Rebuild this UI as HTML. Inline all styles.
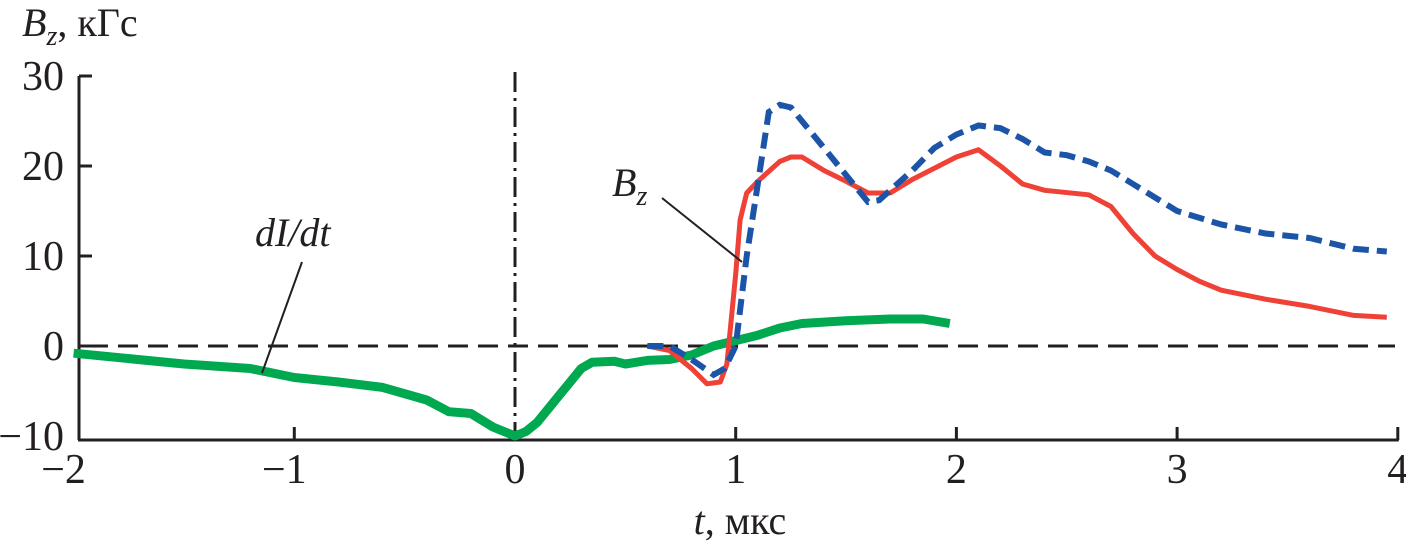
<!DOCTYPE html>
<html><head><meta charset="utf-8"><style>
html,body{margin:0;padding:0;background:#fff;width:1406px;height:549px;overflow:hidden}
text{font-family:"Liberation Serif","Times New Roman",serif;fill:#231f20}
</style></head><body>
<svg id="chart" width="1406" height="549" viewBox="0 0 1406 549" xmlns="http://www.w3.org/2000/svg" font-family="Liberation Serif, Times New Roman, serif">
<g id="axes"></g>
<g id="series"></g>
<text x="22" y="36" font-size="40" font-style="italic" font-family="Liberation Serif, serif">B<tspan font-size="28" dy="9">z</tspan><tspan font-style="normal" dy="-9">, кГс</tspan></text>
<text x="740" y="534" font-size="40" text-anchor="middle" font-family="Liberation Serif, serif"><tspan font-style="italic">t</tspan>, мкс</text>
<text x="612" y="196" font-size="40" font-style="italic" font-family="Liberation Serif, serif">B<tspan font-size="28" dy="9">z</tspan></text>
<line x1="662" y1="198" x2="742" y2="262" stroke="#231f20" stroke-width="2"/>
<text x="255" y="246" font-size="40" font-style="italic" font-family="Liberation Serif, serif">dI/dt</text>
<line x1="302" y1="262" x2="262" y2="373" stroke="#231f20" stroke-width="2"/>
</svg>
<script>
const xTicks=[-2,-1,0,1,2,3,4];
const xTickLabels=["−2","−1","0","1","2","3","4"];
const yTicks=[-10,0,10,20,30];
const yTickLabels=["−10","0","10","20","30"];
const greenT=[-2,-1.5,-1.2,-1,-0.8,-0.6,-0.4,-0.3,-0.2,-0.1,0,0.05,0.1,0.15,0.2,0.25,0.3,0.35,0.45,0.5,0.6,0.7,0.8,0.9,1.0,1.1,1.2,1.3,1.5,1.7,1.85,1.97];
const greenV=[-0.8,-2,-2.5,-3.5,-4,-4.6,-6,-7.3,-7.5,-9,-10,-9.5,-8.5,-7,-5.5,-4,-2.5,-1.8,-1.7,-2,-1.6,-1.5,-1,0,0.6,1.2,2,2.5,2.8,3,3,2.5];
const redT=[0.6,0.7,0.8,0.87,0.93,0.96,0.98,1.0,1.02,1.05,1.1,1.2,1.25,1.3,1.4,1.5,1.6,1.7,1.8,2.0,2.1,2.2,2.3,2.4,2.6,2.7,2.8,2.9,3.0,3.1,3.2,3.4,3.6,3.8,3.95];
const redV=[0,-0.5,-2.5,-4.2,-4,-2,3,8,14,17,18.3,20.5,21,21,19.5,18.3,17,17,18.5,21,21.8,20,18,17.3,16.8,15.5,12.5,10,8.5,7.2,6.2,5.2,4.4,3.4,3.2];
const blueT=[0.6,0.7,0.8,0.9,0.95,1.0,1.05,1.1,1.15,1.2,1.25,1.3,1.4,1.5,1.6,1.65,1.8,1.9,2.0,2.1,2.2,2.3,2.4,2.5,2.6,2.7,2.8,3.0,3.2,3.4,3.6,3.8,3.95];
const blueV=[0,0,-1.5,-3.2,-2.5,0,10,18,26,26.8,26.5,25,22,19,16,16.2,19.5,22,23.5,24.5,24.2,23,21.5,21.2,20.5,19.5,18,15,13.5,12.5,12,10.8,10.5];
const NS="http://www.w3.org/2000/svg";
function xs(t){return 515+220.7*t;}
function ys(v){return 346-9.0*v;}
function mk(tag,attrs,parent){const e=document.createElementNS(NS,tag);for(const k in attrs)e.setAttribute(k,attrs[k]);parent.appendChild(e);return e;}
const ax=document.getElementById('axes');
let yl=mk('line',{x1:79,y1:ys(30),x2:79,y2:440,stroke:'#231f20','stroke-width':3},ax);


let xl=mk('line',{x1:78,y1:440,x2:xs(4)+1,y2:440,stroke:'#231f20','stroke-width':3},ax);


yTicks.forEach((v,i)=>{
  if(v>-10){const t=mk('line',{x1:79,y1:ys(v),x2:92,y2:ys(v),stroke:'#231f20','stroke-width':3},ax);
  
  }
  const l=mk('text',{x:64,y:ys(v)+14,'font-size':42,'text-anchor':'end','font-family':'Liberation Serif, serif'},ax);l.textContent=yTickLabels[i];
  
  
});
xTicks.forEach((v,i)=>{
  if(v>-2){const t=mk('line',{x1:xs(v),y1:440,x2:xs(v),y2:427,stroke:'#231f20','stroke-width':3},ax);
  
  }
  const l=mk('text',{x:xs(v)+(v<0?-10:0),y:483,'font-size':42,'text-anchor':'middle','font-family':'Liberation Serif, serif'},ax);l.textContent=xTickLabels[i];
  
  
});
const zl=mk('line',{x1:88,y1:ys(0),x2:1395,y2:ys(0),stroke:'#231f20','stroke-width':3,'stroke-dasharray':'20 10'},ax);


const vl=mk('line',{x1:xs(0),y1:72,x2:xs(0),y2:440,stroke:'#231f20','stroke-width':3,'stroke-dasharray':'20 6 3 6'},ax);


const sg=document.getElementById('series');
function pts(T,V){return T.map((t,i)=>xs(t).toFixed(1)+','+ys(V[i]).toFixed(1)).join(' ');}
const g=mk('polyline',{points:pts(greenT,greenV),fill:'none',stroke:'#00a94f','stroke-width':9,'stroke-linejoin':'round'},sg);


const r=mk('polyline',{points:pts(redT,redV),fill:'none',stroke:'#ef4136','stroke-width':5,'stroke-linejoin':'round'},sg);


const b=mk('polyline',{points:pts(blueT,blueV),fill:'none',stroke:'#1c54a8','stroke-width':6,'stroke-dasharray':'16 8'},sg);


</script>
</body></html>
